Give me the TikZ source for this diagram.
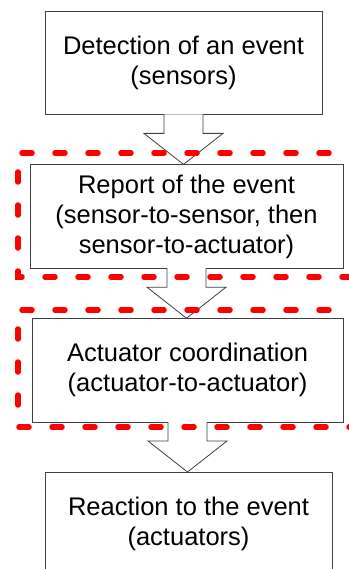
\documentclass[tikz,border=0pt]{standalone}
\usepackage{fontspec}
\setmainfont{Liberation Sans}
\usetikzlibrary{chains,positioning,calc}

\begin{document}
\begin{tikzpicture}[x=1pt,y=1pt]
        \tikzstyle{every path}=[line width=0.8pt]

        \edef\sizestage{103.5pt}
        \tikzstyle{stage}=[draw=black!75,fill=white,minimum height=\sizestage,align=center,inner sep=0pt,font=\fontsize{25.5}{30}\selectfont]
        \tikzstyle{flow}=[draw=black!75,fill=white]
        \tikzstyle{zone}=[draw=red,line width=5.5pt,line cap=round,dash pattern=on 10pt off 23pt]

        \useasboundingbox (0,0) rectangle (348,-569);

        \begin{scope}[start chain=1 going below,node distance=49.5pt]
        \node [on chain=1,stage,minimum width=277pt] at (183.5,-62.75) (detect) {Detection of an event\\(sensors)};
        \node [on chain=1,stage,minimum width=313pt,xshift=3pt] (report) {Report of the event\\(sensor-to-sensor, then\\sensor-to-actuator)};
        \node [on chain=1,stage,minimum width=311pt,xshift=1pt] (coord) {Actuator coordination\\(actuator-to-actuator)};
        \node [on chain=1,stage,minimum width=287pt,xshift=1pt] (react) {Reaction to the event\\(actuators)};
        \end{scope}

        %arrows between the stages
        \foreach \a/\b in {detect/report,report/coord,coord/react} {
            \draw [flow] ($(\a.south)+(-19.5,0.5)$) -- ++(0,-19) -- ++(-20,0) -- (\a.south |- \b.north)
                -- ($(\a.south)+(39.5,-18.5)$) -- ++(-20,0) -- ++(0,19);
        };

        %dashed zones
        \draw [zone] (362,-153) -| (18,-277) -- (362,-277);
        \draw [zone] (362,-310) -| (18,-427) -- (362,-427);
\end{tikzpicture}
\end{document}
